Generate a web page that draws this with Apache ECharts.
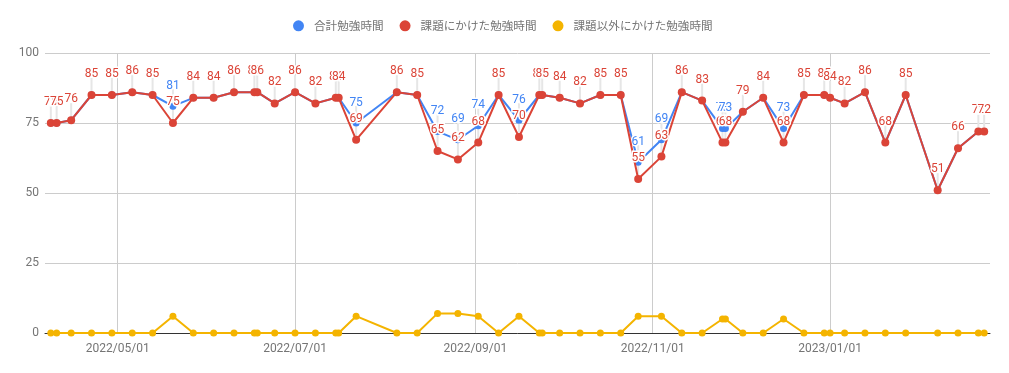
<!DOCTYPE html>
<html><head><meta charset="utf-8">
<script src="https://cdn.jsdelivr.net/npm/echarts@6/dist/echarts.min.js"></script>
<style>html,body{margin:0;padding:0;background:#fff}#c{width:1009px;height:373px}</style>
</head><body><div id="c"></div>
<script>
const seriesNames = ['合計勉強時間', '課題にかけた勉強時間', '課題以外にかけた勉強時間'];
const dates = ['2022-04-08','2022-04-10','2022-04-15','2022-04-22','2022-04-29','2022-05-06','2022-05-13','2022-05-20','2022-05-27','2022-06-03','2022-06-10','2022-06-17','2022-06-18','2022-06-24','2022-07-01','2022-07-08','2022-07-15','2022-07-16','2022-07-22','2022-08-05','2022-08-12','2022-08-19','2022-08-26','2022-09-02','2022-09-09','2022-09-16','2022-09-23','2022-09-24','2022-09-30','2022-10-07','2022-10-14','2022-10-21','2022-10-27','2022-11-04','2022-11-11','2022-11-18','2022-11-25','2022-11-26','2022-12-02','2022-12-09','2022-12-16','2022-12-23','2022-12-30','2023-01-01','2023-01-06','2023-01-13','2023-01-20','2023-01-27','2023-02-07','2023-02-14','2023-02-21','2023-02-23'];
const totalHours = [75,75,76,85,85,86,85,81,84,84,86,86,86,82,86,82,84,84,75,86,85,72,69,74,85,76,85,85,84,82,85,85,61,69,86,83,73,73,79,84,73,85,85,84,82,86,68,85,51,66,72,72];
const taskHours = [75,75,76,85,85,86,85,75,84,84,86,86,86,82,86,82,84,84,69,86,85,65,62,68,85,70,85,85,84,82,85,85,55,63,86,83,68,68,79,84,68,85,85,84,82,86,68,85,51,66,72,72];
const otherHours = [0,0,0,0,0,0,0,6,0,0,0,0,0,0,0,0,0,0,6,0,0,7,7,6,0,6,0,0,0,0,0,0,6,6,0,0,5,5,0,0,5,0,0,0,0,0,0,0,0,0,0,0];
const xTickDates = ['2022-05-01','2022-07-01','2022-09-01','2022-11-01','2023-01-01'];
const xRange = ['2022-04-06','2023-02-25'];
const yTicks = [0,25,50,75,100];

const BLUE = '#4285F4', RED = '#DB4437', YELLOW = '#F4B400';
const ts = s => { const a = s.split('-').map(Number); return new Date(a[0], a[1] - 1, a[2]).getTime(); };
const pad = n => (n < 10 ? '0' : '') + n;

const totalData = dates.map((d, i) => [ts(d), totalHours[i]]);
const taskData = dates.map((d, i) => [ts(d), taskHours[i]]);
const otherData = dates.map((d, i) => [ts(d), otherHours[i]]);
// stems for annotations: every task point, plus total points that differ
const stemData = taskData.concat(totalData.filter((p, i) => totalHours[i] !== taskHours[i]));

const labelBase = {
  show: true, position: 'top', distance: 11, fontSize: 12,
  fontFamily: 'Roboto, Arial, sans-serif',
  textBorderColor: '#fff', textBorderWidth: 3
};

const chart = echarts.init(document.getElementById('c'), null, {renderer: 'canvas'});
chart.setOption({
  animation: false,
  backgroundColor: '#fff',
  textStyle: {fontFamily: 'Roboto, "Noto Sans CJK JP", sans-serif'},
  legend: {
    data: seriesNames, left: 288, top: 15, icon: 'circle',
    itemWidth: 11, itemHeight: 11, itemGap: 16,
    textStyle: {color: '#757575', fontSize: 11.6, padding: [0, 0, 0, 5], fontFamily: '"Noto Sans CJK JP", sans-serif'}
  },
  grid: {left: 45, right: 19, top: 53, bottom: 40},
  xAxis: {
    type: 'value', min: ts(xRange[0]), max: ts(xRange[1]), scale: true,
    axisLine: {show: true, onZero: false, lineStyle: {color: '#333', width: 1}},
    axisTick: {show: false, customValues: xTickDates.map(ts)},
    axisLabel: {
      customValues: xTickDates.map(ts), color: '#757575', fontSize: 12, margin: 10,
      formatter: v => { const d = new Date(v); return d.getFullYear() + '/' + pad(d.getMonth() + 1) + '/' + pad(d.getDate()); }
    },
    splitLine: {show: true, lineStyle: {color: '#cccccc', width: 1}}
  },
  yAxis: {
    type: 'value', min: yTicks[0], max: yTicks[yTicks.length - 1], interval: 25,
    axisLine: {show: false}, axisTick: {show: false},
    axisLabel: {color: '#757575', fontSize: 12, margin: 6},
    splitLine: {lineStyle: {color: '#cccccc', width: 1}}
  },
  series: [
    {
      type: 'custom', name: 'stems', silent: true, z: 1,
      data: stemData,
      renderItem: (params, api) => {
        const p = api.coord([api.value(0), api.value(1)]);
        return {type: 'line', shape: {x1: p[0], y1: p[1] - 3, x2: p[0], y2: p[1] - 17},
          style: {stroke: '#e6e6e6', lineWidth: 2}};
      }
    },
    {
      name: seriesNames[0], type: 'line', data: totalData, z: 2,
      symbol: 'circle', symbolSize: 7, color: BLUE,
      lineStyle: {width: 2, color: BLUE}, itemStyle: {color: BLUE},
      label: Object.assign({}, labelBase, {color: BLUE,
        formatter: p => (totalHours[p.dataIndex] !== taskHours[p.dataIndex] ? String(totalHours[p.dataIndex]) : '')})
    },
    {
      name: seriesNames[1], type: 'line', data: taskData, z: 3,
      symbol: 'circle', symbolSize: 8, color: RED,
      lineStyle: {width: 2, color: RED}, itemStyle: {color: RED},
      label: Object.assign({}, labelBase, {color: RED, formatter: p => String(taskHours[p.dataIndex])})
    },
    {
      name: seriesNames[2], type: 'line', data: otherData, z: 3,
      symbol: 'circle', symbolSize: 7, color: YELLOW,
      lineStyle: {width: 2, color: YELLOW}, itemStyle: {color: YELLOW},
      label: {show: false}
    }
  ]
});
</script></body></html>
